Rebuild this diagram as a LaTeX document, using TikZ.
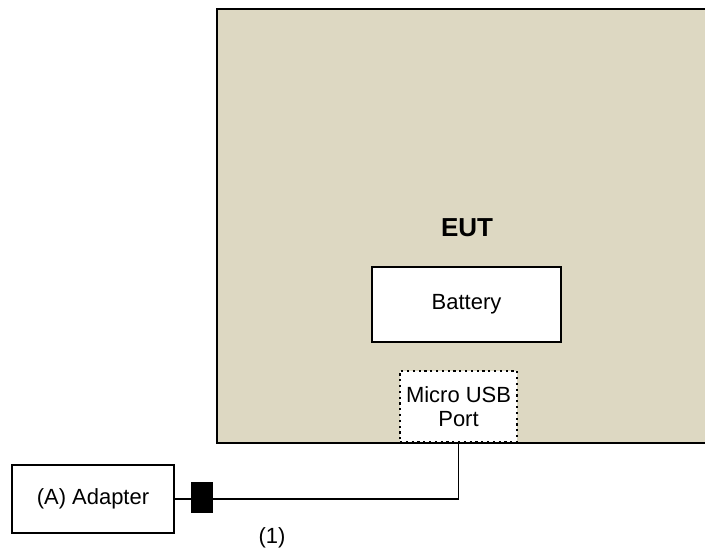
\documentclass[tikz,border=0pt]{standalone}
\usepackage{fontspec}
\setmainfont{Liberation Sans}
\usetikzlibrary{positioning}
\usetikzlibrary{calc}
\definecolor{eutfill}{RGB}{221,216,194}

\begin{document}
\begin{tikzpicture}[x=0.02cm, y=-0.02cm,
  unit/.style={draw=black, line width=1.4pt, fill=white, inner sep=0pt,
               font=\fontsize{12.5}{15}\selectfont, align=center},
  port/.style={unit, line width=1.3pt, dotted},
  plug/.style={draw=black, fill=black, inner sep=0pt,
               minimum width=0.42cm, minimum height=0.6cm},
  wire/.style={line width=0.9pt}]

%---------------------------------------
% Canvas
%---------------------------------------
\clip (0,0) rectangle (705,547);

%====================================================
% EUT enclosure
%====================================================
\node[draw=black, line width=1.4pt, fill=eutfill, anchor=north west,
      minimum width=9.96cm, minimum height=8.68cm, inner sep=0pt]
      (eut) at (216,8) {};
\node[font=\fontsize{14.8}{17}\selectfont\bfseries] (eutlabel) at (467,228) {EUT};

% Battery and port inside the EUT
\node[unit, minimum width=3.78cm, minimum height=1.5cm] (battery) at (466.5,304.5) {Battery};
\node[port, minimum width=2.34cm, minimum height=1.42cm] (usb) at (458.5,406.5)
      {Micro USB\\[-1pt]Port};

%====================================================
% Adapter and cable (1)
%====================================================
\node[unit, minimum width=3.24cm, minimum height=1.36cm] (adapter) at (93,499) {(A) Adapter};
\node[plug] (dcplug) at (201.5,497) {};
\coordinate (bend) at (usb.south |- 0,499);

\draw[wire] (usb.south) -- (bend) -- (bend -| dcplug.east);
\draw[wire] (adapter.east) -- (adapter.east -| dcplug.west);

\node[font=\fontsize{12.5}{15}\selectfont] (cable) at (272,538) {(1)};

\end{tikzpicture}
\end{document}
